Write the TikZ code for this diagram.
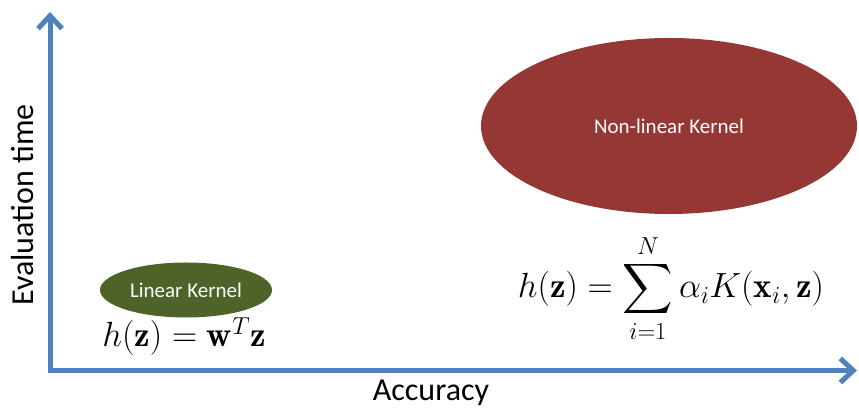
\RequirePackage{fix-cm}
\documentclass[tikz,border=0pt]{standalone}
\usepackage{fontspec}
\newfontfamily\calibri{Carlito}
\DeclareFontShape{OMX}{cmex}{m}{n}{<-> cmex10}{}
\usetikzlibrary{arrows.meta,shapes.geometric}

\definecolor{axisblue}{HTML}{4F81BD}
\definecolor{kernelred}{HTML}{953735}
\definecolor{kernelgreen}{HTML}{4F6228}

\begin{document}
\begin{tikzpicture}[
        x=1pt,y=1pt,
        axis/.style={axisblue,line width=5pt,line join=miter,
            {Straight Barb[length=13pt,width=24pt]}-{Straight Barb[length=13pt,width=24pt]}},
        kernel/.style={ellipse,inner sep=0pt,text=white,
            font=\calibri\fontsize{21}{25}\selectfont},
        axislabel/.style={font=\calibri\fontsize{32}{38}\selectfont},
        formula/.style={anchor=base,inner sep=0pt,font=\fontsize{35}{40}\selectfont}
    ]
    \useasboundingbox (0,0) rectangle (859,411);

    % Axes
    \coordinate (origin) at (50,40.5);
    \coordinate (ytop) at (50,399);
    \coordinate (xend) at (857,40.5);
    \draw[axis] (ytop) -- (origin) -- (xend);

    \node[axislabel,rotate=90] (ylabel) at (23,206) {Evaluation time};
    \node[axislabel,anchor=base] (xlabel) at (431,10) {Accuracy};

    % Linear kernel
    \node[kernel,fill=kernelgreen,minimum width=172pt,minimum height=55pt]
        (linear) at (186,121) {Linear Kernel};
    \node[formula] (linformula) at (184,64)
        {$h(\mathbf{z}) = \mathbf{w}^T\mathbf{z}$};

    % Non-linear kernel
    \node[kernel,fill=kernelred,minimum width=376pt,minimum height=176pt]
        (nonlinear) at (669,285) {Non-linear Kernel};
    \node[formula] (kernformula) at (671,113)
        {$\displaystyle h(\mathbf{z}) = \sum_{i=1}^{N} \alpha_i K(\mathbf{x}_i,\mathbf{z})$};

\end{tikzpicture}
\end{document}
